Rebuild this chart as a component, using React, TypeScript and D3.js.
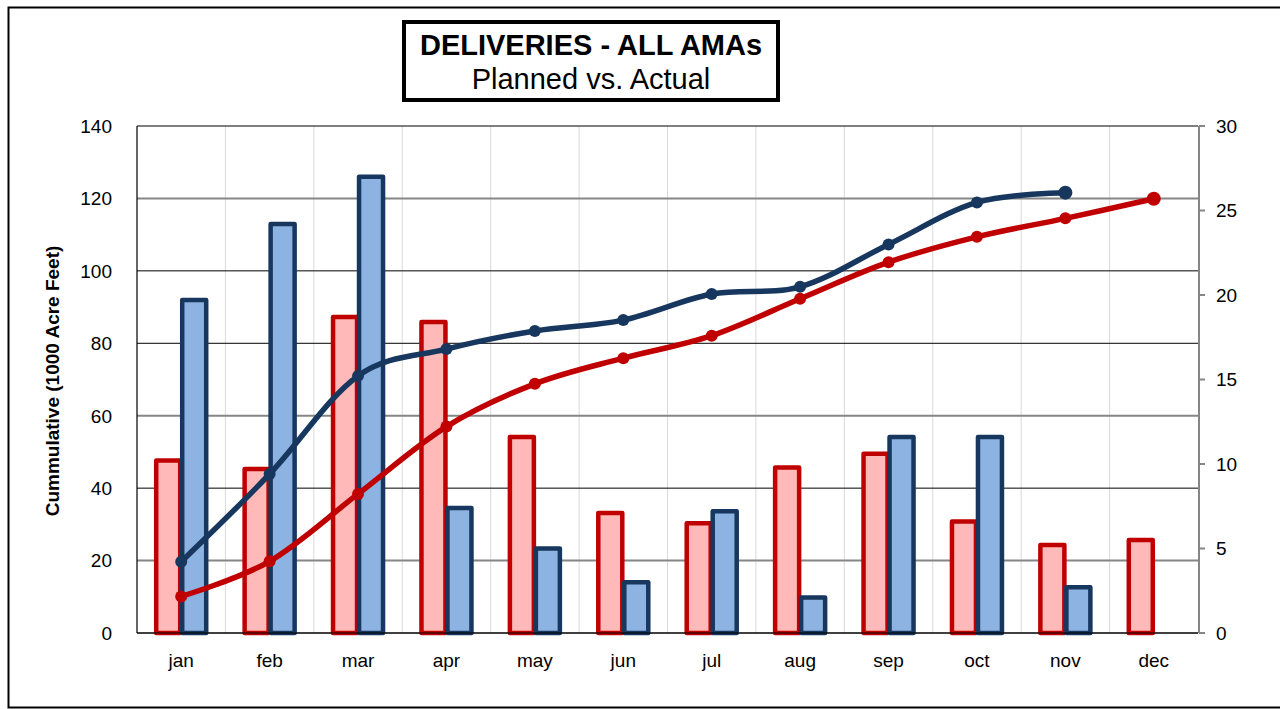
import React from "react";
import * as d3 from "d3";

// monthly + cumulative deliveries
const months = ["jan", "feb", "mar", "apr", "may", "jun", "jul", "aug", "sep", "oct", "nov", "dec"];
const plannedMonthly = [10.2, 9.7, 18.7, 18.4, 11.6, 7.1, 6.5, 9.8, 10.6, 6.6, 5.2, 5.5];
const actualMonthly = [19.7, 24.2, 27.0, 7.4, 5.0, 3.0, 7.2, 2.1, 11.6, 11.6, 2.7];
const plannedCumulative = [10.1, 19.8, 38.4, 57.0, 68.8, 75.9, 82.1, 92.3, 102.4, 109.4, 114.5, 119.9];
const actualCumulative = [19.7, 43.9, 71.0, 78.4, 83.4, 86.4, 93.6, 95.6, 107.3, 118.9, 121.6];
const leftTicks = [0, 20, 40, 60, 80, 100, 120, 140];
const rightTicks = [0, 5, 10, 15, 20, 25, 30];
const grayGrid = [20, 60, 120];

const W = 1280, H = 709;
const plot = { left: 137, right: 1198, top: 126, bottom: 633 };
const font = "Arial, 'Liberation Sans', sans-serif";

const RED = "#C00000";
const RED_FILL = "#FFB9B9";
const NAVY = "#17375E";
const BLUE_FILL = "#8DB3E2";

export default function App() {
  const x = d3.scaleBand().domain(months).range([plot.left, plot.right]).padding(0);
  const yLeft = d3.scaleLinear().domain([0, 140]).range([plot.bottom, plot.top]);
  const yRight = d3.scaleLinear().domain([0, 30]).range([plot.bottom, plot.top]);
  const cx = (m: string) => (x(m) as number) + x.bandwidth() / 2;

  // excel-style smoothed lines
  const line = d3.line<number>()
    .x((_, i) => cx(months[i]))
    .y(d => yLeft(d))
    .curve(d3.curveCatmullRom.alpha(0));

  const barW = 24;

  return (
    <svg width={W} height={H} style={{ position: "absolute", left: 0, top: 0, fontFamily: font }}>
      <rect x={0} y={0} width={W} height={H} fill="#fff" />
      {/* outer frame */}
      <rect x={8.5} y={7.5} width={W + 20} height={700} fill="none" stroke="#000" strokeWidth={2} />

      {/* vertical grid */}
      {months.map((m, i) => i > 0 && (
        <line key={m} x1={x(m)} x2={x(m)} y1={plot.top} y2={plot.bottom} stroke="#D9D9D9" strokeWidth={1} />
      ))}

      {/* horizontal grid */}
      {leftTicks.map(t => {
        const gray = grayGrid.includes(t);
        return (
          <line key={t} x1={plot.left} x2={plot.right} y1={yLeft(t)} y2={yLeft(t)}
            stroke={gray ? "#868686" : "#000"} strokeWidth={gray ? 2 : 1} />
        );
      })}

      {/* left axis */}
      <line x1={plot.left} x2={plot.left} y1={plot.top} y2={plot.bottom} stroke="#000" strokeWidth={1.2} />
      {leftTicks.map(t => (
        <text key={t} x={112} y={yLeft(t)} dy="0.36em" textAnchor="end" fontSize={19} fill="#000">{t}</text>
      ))}

      {/* right axis */}
      <line x1={plot.right + 1} x2={plot.right + 1} y1={plot.top} y2={plot.bottom} stroke="#868686" strokeWidth={2} />
      {rightTicks.map(t => (
        <g key={t}>
          <line x1={plot.right + 1} x2={plot.right + 7} y1={yRight(t)} y2={yRight(t)} stroke="#868686" strokeWidth={2} />
          <text x={1216} y={yRight(t)} dy="0.36em" fontSize={19} fill="#000">{t}</text>
        </g>
      ))}

      {/* x labels */}
      {months.map(m => (
        <text key={m} x={cx(m)} y={667} textAnchor="middle" fontSize={19} fill="#000">{m}</text>
      ))}

      {/* y title */}
      <text transform={`translate(59,381) rotate(-90)`} textAnchor="middle" fontSize={19} fontWeight="bold" fill="#000">
        Cummulative (1000 Acre Feet)
      </text>

      {/* bars */}
      {plannedMonthly.map((v, i) => (
        <rect key={"p" + i} x={cx(months[i]) - barW - 1} y={yRight(v)} width={barW} height={yRight(0) - yRight(v)}
          fill={RED_FILL} stroke={RED} strokeWidth={4.5} strokeLinejoin="round" />
      ))}
      {actualMonthly.map((v, i) => (
        <rect key={"a" + i} x={cx(months[i]) + 1} y={yRight(v)} width={barW} height={yRight(0) - yRight(v)}
          fill={BLUE_FILL} stroke={NAVY} strokeWidth={4.5} strokeLinejoin="round" />
      ))}

      {/* bottom axis */}
      <line x1={plot.left} x2={plot.right} y1={plot.bottom} y2={plot.bottom} stroke="#000" strokeWidth={1.2} />

      {/* cumulative lines */}
      <path d={line(actualCumulative) || ""} fill="none" stroke={NAVY} strokeWidth={5.5} strokeLinejoin="round" />
      {actualCumulative.map((v, i) => (
        <circle key={"ac" + i} cx={cx(months[i])} cy={yLeft(v)} r={i === actualCumulative.length - 1 ? 7 : 6} fill={NAVY} />
      ))}
      <path d={line(plannedCumulative) || ""} fill="none" stroke={RED} strokeWidth={5.5} strokeLinejoin="round" />
      {plannedCumulative.map((v, i) => (
        <circle key={"pc" + i} cx={cx(months[i])} cy={yLeft(v)} r={i === plannedCumulative.length - 1 ? 7 : 6} fill={RED} />
      ))}

      {/* title box */}
      <rect x={404} y={22} width={374} height={78} fill="#fff" stroke="#000" strokeWidth={4} />
      <text x={591} y={55} textAnchor="middle" fontSize={29} fontWeight="bold" fill="#000">DELIVERIES - ALL AMAs</text>
      <text x={591} y={89} textAnchor="middle" fontSize={29} fill="#000">Planned vs. Actual</text>
    </svg>
  );
}
